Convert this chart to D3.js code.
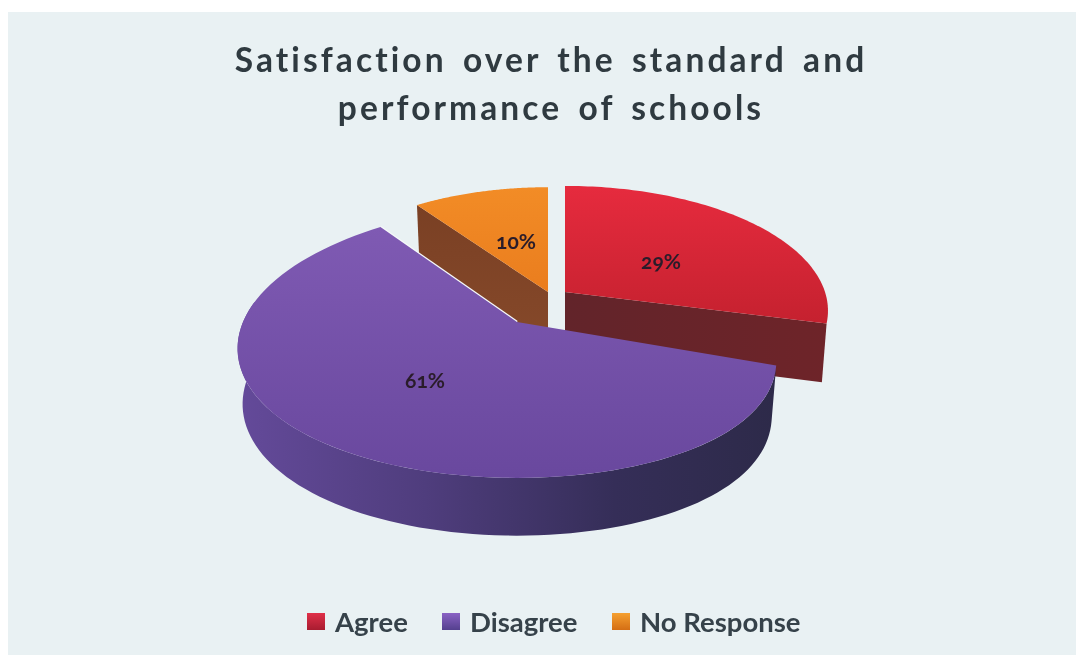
<!DOCTYPE html>
<html><head><meta charset="utf-8">
<style>html,body{margin:0;padding:0;background:#fff}svg{display:block;filter:blur(0.45px)}</style>
<script src="https://cdn.jsdelivr.net/npm/d3@7/dist/d3.min.js"></script>
</head><body><svg id="c" width="1084" height="655"></svg>
<script>
const titleLines = ["Satisfaction over the standard and", "performance of schools"];
const categories = ["Agree", "Disagree", "No Response"];
const values = [29, 61, 10];

const svg = d3.select("#c");
const defs = svg.append("defs");
const grad = (id, dir, stops) => {
  const g = defs.append("linearGradient").attr("id", id)
    .attr("x1", 0).attr("y1", 0).attr("x2", dir === "h" ? 1 : 0).attr("y2", dir === "h" ? 0 : 1);
  stops.forEach(([o, c]) => g.append("stop").attr("offset", o).attr("stop-color", c));
};
grad("topA", "v", [[0, "#e62b3e"], [1, "#c5212f"]]);
grad("topD", "v", [[0, "#7f5ab3"], [1, "#69489e"]]);
grad("topN", "v", [[0, "#f28c26"], [1, "#ea7d1e"]]);
grad("rim", "h", [[0, "#644a9a"], [0.35, "#4f3d7d"], [0.7, "#352e58"], [1, "#2d2a49"]]);
grad("wallA", "h", [[0, "#62242a"], [1, "#6e2429"]]);
grad("wallN", "v", [[0, "#7a4024"], [1, "#86492a"]]);
grad("legA", "v", [[0, "#e03048"], [1, "#a81c30"]]);
grad("legD", "v", [[0, "#8a62c4"], [1, "#54408e"]]);
grad("legN", "v", [[0, "#f5a030"], [1, "#d46e14"]]);

svg.append("rect").attr("x", 8).attr("y", 12).attr("width", 1068).attr("height", 643).attr("fill", "#e9f1f3");

const titleSel = svg.append("g").attr("font-family", "Lato, 'Open Sans', sans-serif")
  .attr("font-weight", 700).attr("font-size", 33.5).attr("fill", "#2f3a40")
  .attr("text-anchor", "middle").style("letter-spacing", "3.1px").style("word-spacing", "5px");
titleSel.selectAll("text").data(titleLines).join("text")
  .attr("x", 551).attr("y", (d, i) => 72 + i * 48).text(d => d);

// Per-slice placement of the exploded wedges in the tilted view
const view = [
  { ox: 565, oy: 292, A: 260, c: 0, kx: 0.15, B: 122, ky: 0.15, t: 0, depth: 58, top: "url(#topA)", wall: "url(#wallA)" },
  { ox: 517, oy: 322, A: 264, c: 10, kx: 0.2, B: 132.5, ky: 0.15, t: 10, depth: 55, top: "url(#topD)", wall: "url(#rim)" },
  { ox: 548, oy: 292, A: 250, c: 0, kx: 0.15, B: 120.5, ky: 0.15, t: 0, depth: 58, top: "url(#topN)", wall: "url(#wallN)" }
];

const pie = d3.pie().sort(null)(values);

function project(v, a, r, lower) {
  const X = r * Math.sin(a), Y = -r * Math.cos(a);
  const x = X * (v.A - v.c * X) / (1 - v.kx * Y);
  const y = Y * v.B / (1 - v.ky * Y) + v.t * X * X * (0.5 + 0.5 * X);
  if (!lower) return [v.ox + x, v.oy + y];
  return [v.ox + x * 0.982, v.oy + y + v.depth * (1 + 0.05 * Y)];
}
const line = d3.line();
const sweep = (v, a0, a1, lower) => d3.range(0, 1.0001, 1 / 90).map(u => project(v, a0 + (a1 - a0) * u, 1, lower));
const apex = (v, lower) => project(v, 0, 0, lower);

const chart = svg.append("g");
const order = [2, 0, 1];
order.forEach(i => {
  const s = pie[i], v = view[i], g = chart.append("g");
  // cut faces that look toward the viewer
  if (i === 2) {
    g.append("path").attr("fill", v.wall).attr("d", line([
      apex(v, false), project(v, s.startAngle, 1, false), project(v, s.startAngle, 1, true), apex(v, true)]) + "Z");
  }
  if (i === 0) {
    g.append("path").attr("fill", v.wall).attr("d", line([
      apex(v, false), project(v, s.endAngle, 1, false), project(v, s.endAngle, 1, true), apex(v, true)]) + "Z");
  }
  if (i === 1) {
    const a1 = Math.min(s.endAngle, 1.55 * Math.PI);
    const upper = sweep(v, s.startAngle, a1, false);
    const lowerPts = sweep(v, s.startAngle, a1, true).reverse();
    g.append("path").attr("fill", v.wall).attr("d", line(upper.concat(lowerPts)) + "Z");
    // pale highlight along the back cut of the large wedge
    g.append("path").attr("fill", "none").attr("stroke", "#f6f9fa").attr("stroke-width", 2.5)
      .attr("d", line([apex(v, false), project(v, s.endAngle, 1, false)]));
  }
  g.append("path").attr("fill", v.top)
    .attr("d", line([apex(v, false)].concat(sweep(v, s.startAngle, s.endAngle, false))) + "Z");
});

// percentage labels
const total = d3.sum(values);
const labelSpot = [[661, 262], [425, 381], [516, 242]];
svg.append("g").attr("font-family", "Lato, sans-serif").attr("font-weight", 700).attr("font-size", 21)
  .attr("fill", "#2a1c2a").attr("text-anchor", "middle").style("font-variant-numeric", "oldstyle-nums")
  .selectAll("text").data(values).join("text")
  .attr("x", (d, i) => labelSpot[i][0]).attr("y", (d, i) => labelSpot[i][1] + 7)
  .text(d => Math.round(d / total * 100) + "%");

// legend
const legendX = d3.scaleOrdinal().domain(categories).range([307, 442, 612]);
const legendFill = d3.scaleOrdinal().domain(categories).range(["url(#legA)", "url(#legD)", "url(#legN)"]);
const leg = svg.append("g").selectAll("g").data(categories).join("g")
  .attr("transform", d => `translate(${legendX(d)},0)`);
leg.append("rect").attr("y", 613).attr("width", 18).attr("height", 17).attr("fill", d => legendFill(d));
leg.append("text").attr("x", 28).attr("y", 632).attr("font-family", "Lato, sans-serif").attr("font-weight", 700)
  .attr("font-size", 27.5).attr("fill", "#36424a").text(d => d);
</script></body></html>
